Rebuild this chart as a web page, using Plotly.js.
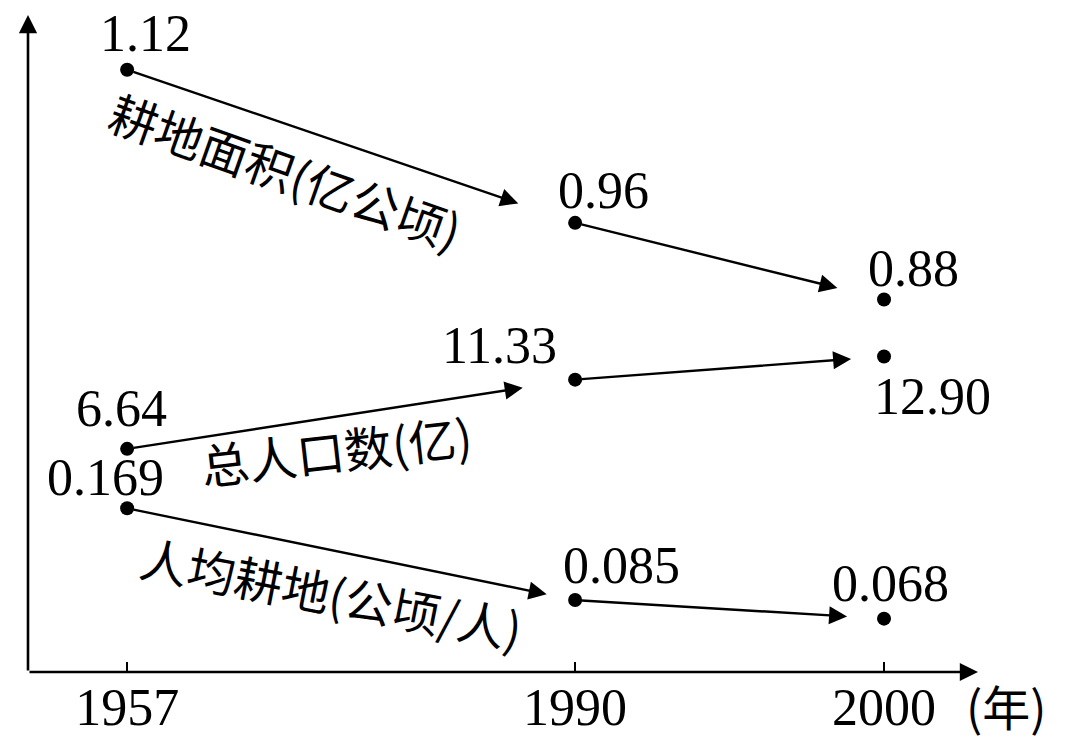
<!DOCTYPE html>
<html><head><meta charset="utf-8">
<script src="https://cdn.plot.ly/plotly-3.0.1.min.js"></script>
<style>html,body{margin:0;padding:0;background:#fff}#chart{width:1080px;height:748px}</style>
</head><body><div id="chart"></div>
<script>
// ---- data ----
const years = ['1957', '1990', '2000'];
const yearUnit = '(年)';
const landArea = [1.12, 0.96, 0.88];          // 耕地面积 (亿公顷)
const population = [6.64, 11.33, 12.90];      // 总人口数 (亿)
const landPerCapita = [0.169, 0.085, 0.068];  // 人均耕地 (公顷/人)
const seriesNames = ['耕地面积(亿公顷)', '总人口数(亿)', '人均耕地(公顷/人)'];

// ---- layout helpers ----
const W = 1080, H = 748, L = 28, R = 102, T = 15, B = 76;
const pw = W - L - R, ph = H - T - B;
const px2x = p => (p - L) / pw;
const py2y = p => (H - B - p) / ph;
const NUM_FONT = 'Liberation Serif, Times New Roman, serif';
const CJK_FONT = 'Noto Sans CJK SC, sans-serif';

const series = [
  {vals: landArea, axis: 'y', dec: 2, name: seriesNames[0],
   offsets: [[18, -36], [28, -32], [29, -31]], standoff: [60, 48],
   label: {cx: 286, cy: 170, angle: 19.5}},
  {vals: population, axis: 'y2', dec: 2, name: seriesNames[1],
   offsets: [[-6, -40], [-76, -34], [48, 40]], standoff: [53, 33],
   label: {cx: 336, cy: 449, angle: -6.5}},
  {vals: landPerCapita, axis: 'y3', dec: 3, name: seriesNames[2],
   offsets: [[-22, -31], [46, -35], [6, -35]], standoff: [29, 37],
   label: {cx: 331, cy: 592, angle: 11}}
];

const traces = series.map(s => ({
  type: 'scatter', mode: 'markers', x: years, y: s.vals, yaxis: s.axis,
  marker: {size: 14, color: '#000'}, hoverinfo: 'skip', showlegend: false
}));

const ARROW = {arrowhead: 2, arrowsize: 1.5, arrowwidth: 2.4, arrowcolor: '#000'};
const annotations = [];
series.forEach(s => {
  for (let i = 0; i < s.vals.length - 1; i++) {
    annotations.push(Object.assign({
      x: years[i + 1], y: s.vals[i + 1], xref: 'x', yref: s.axis,
      ax: years[i], ay: s.vals[i], axref: 'x', ayref: s.axis,
      text: '', showarrow: true, standoff: s.standoff[i], startstandoff: 5
    }, ARROW));
  }
  s.vals.forEach((v, i) => {
    annotations.push({
      x: years[i], y: v, xref: 'x', yref: s.axis, text: v.toFixed(s.dec),
      xanchor: 'center', yanchor: 'middle',
      showarrow: false, xshift: s.offsets[i][0], yshift: -s.offsets[i][1],
      font: {family: NUM_FONT, size: 52, color: '#000'}
    });
  });
  annotations.push({
    xref: 'paper', yref: 'paper', x: px2x(s.label.cx), y: py2y(s.label.cy),
    xanchor: 'center', yanchor: 'middle',
    text: s.name, textangle: s.label.angle, showarrow: false,
    font: {family: CJK_FONT, size: 48, color: '#000'}
  });
});

// axis arrows
annotations.push(Object.assign({xref: 'paper', yref: 'paper', x: 0, y: 1, ax: 0, ay: ph,
  axref: 'pixel', ayref: 'pixel', text: '', showarrow: true, standoff: 0}, ARROW, {arrowwidth: 2.6, arrowsize: 1.4}));
annotations.push(Object.assign({xref: 'paper', yref: 'paper', x: 1, y: 0, ax: -pw, ay: 0,
  axref: 'pixel', ayref: 'pixel', text: '', showarrow: true, standoff: 0}, ARROW, {arrowwidth: 2.6, arrowsize: 1.4}));
annotations.push({xref: 'paper', yref: 'paper', x: px2x(1006), y: py2y(705),
  xanchor: 'center', yanchor: 'middle',
  text: yearUnit, showarrow: false, font: {family: CJK_FONT, size: 48, color: '#000'}});

const hiddenY = {visible: false, showgrid: false, zeroline: false, fixedrange: true};
const layout = {
  width: W, height: H, margin: {l: L, r: R, t: T, b: B},
  paper_bgcolor: '#fff', plot_bgcolor: '#fff', showlegend: false,
  xaxis: {
    type: 'date', range: ['1953-10-17', '2003-01-16'],
    rangebreaks: [{bounds: ['1962-01-01', '1980-07-02']}],
    tickvals: years, ticktext: years, ticks: 'inside', ticklen: 10, tickwidth: 2,
    tickcolor: '#000', showgrid: false, zeroline: false, showline: false,
    tickfont: {family: NUM_FONT, size: 52, color: '#000'}, fixedrange: true
  },
  yaxis: Object.assign({range: [0.49076, 1.17716]}, hiddenY),
  yaxis2: Object.assign({range: [-8.49, 36.053], overlaying: 'y'}, hiddenY),
  yaxis3: Object.assign({range: [0.01916, 0.62053], overlaying: 'y'}, hiddenY),
  annotations: annotations
};

Plotly.newPlot('chart', traces, layout, {staticPlot: true, displayModeBar: false});
</script></body></html>
